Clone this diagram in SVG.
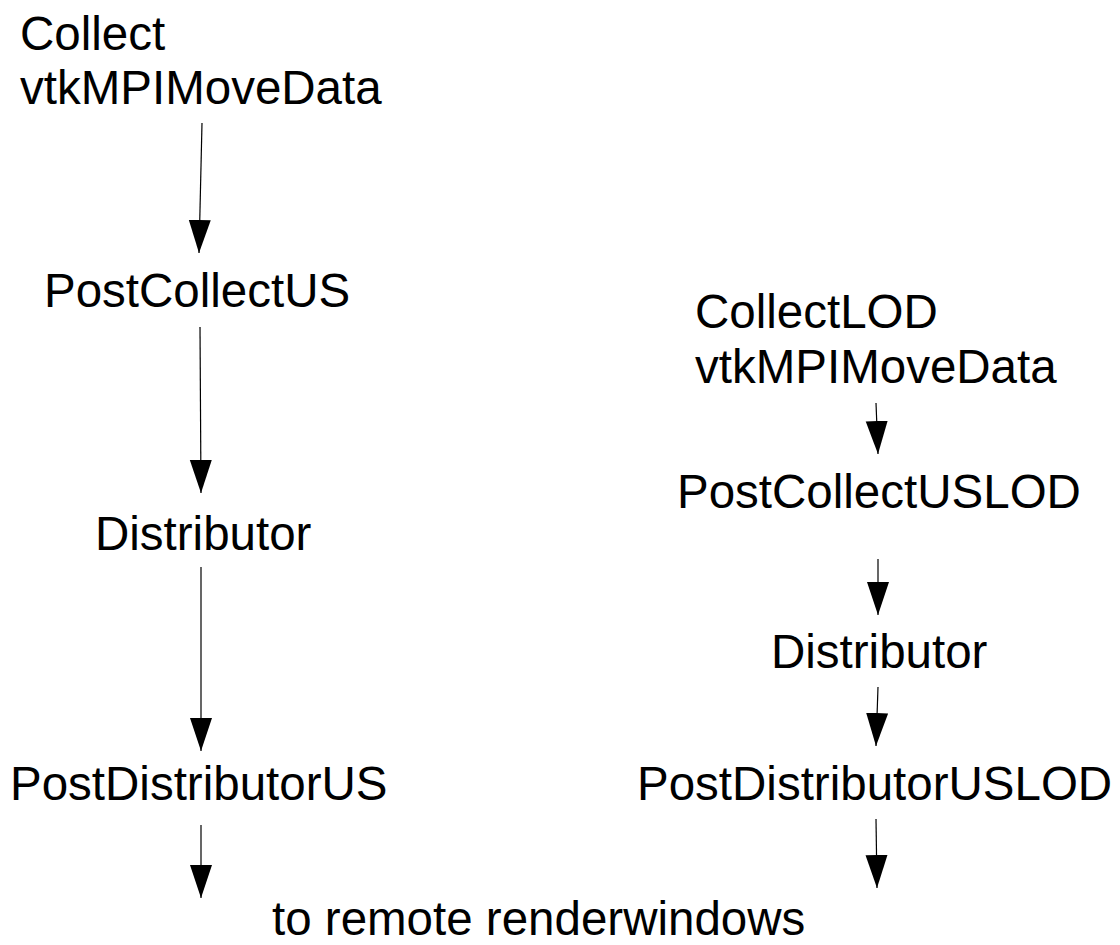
<svg xmlns="http://www.w3.org/2000/svg" width="1120" height="945" viewBox="0 0 1120 945">
  <style>
    .lbl { font-family: "Liberation Sans", Arial, sans-serif; font-size: 47.5px; fill: #000; }
    .edge { stroke: #000; stroke-width: 1.2; fill: none; marker-end: url(#head); }
  </style>
  <defs>
    <marker id="head" markerUnits="userSpaceOnUse" markerWidth="34" markerHeight="23" refX="33" refY="11" orient="auto">
      <path d="M0,0 L33,11 L0,22 Z" fill="#000"/>
    </marker>
  </defs>
  <rect width="1120" height="945" fill="#fff"/>

  <!-- full-resolution pipeline -->
  <g id="collect"><text class="lbl" x="20" y="50">Collect</text><text class="lbl" x="20" y="104">vtkMPIMoveData</text></g>
  <g id="postCollectUS"><text class="lbl" x="44" y="307">PostCollectUS</text></g>
  <g id="distributor"><text class="lbl" x="95" y="550">Distributor</text></g>
  <g id="postDistributorUS"><text class="lbl" x="10" y="800">PostDistributorUS</text></g>

  <!-- level-of-detail pipeline -->
  <g id="collectLOD"><text class="lbl" x="695" y="328">CollectLOD</text><text class="lbl" x="695" y="383">vtkMPIMoveData</text></g>
  <g id="postCollectUSLOD"><text class="lbl" x="677" y="508">PostCollectUSLOD</text></g>
  <g id="distributorLOD"><text class="lbl" x="771" y="668">Distributor</text></g>
  <g id="postDistributorUSLOD"><text class="lbl" x="637" y="800">PostDistributorUSLOD</text></g>

  <g id="remote"><text class="lbl" x="272" y="935">to remote renderwindows</text></g>

  <g id="connectors">
    <line class="edge" x1="202" y1="123" x2="199" y2="253"/>
    <line class="edge" x1="200" y1="327" x2="201" y2="493"/>
    <line class="edge" x1="201" y1="567" x2="201" y2="751"/>
    <line class="edge" x1="201" y1="825" x2="201" y2="898"/>
    <line class="edge" x1="876" y1="403" x2="878" y2="454"/>
    <line class="edge" x1="878" y1="559" x2="878" y2="615"/>
    <line class="edge" x1="878" y1="687" x2="876" y2="746"/>
    <line class="edge" x1="876" y1="819" x2="877" y2="888"/>
  </g>
</svg>
